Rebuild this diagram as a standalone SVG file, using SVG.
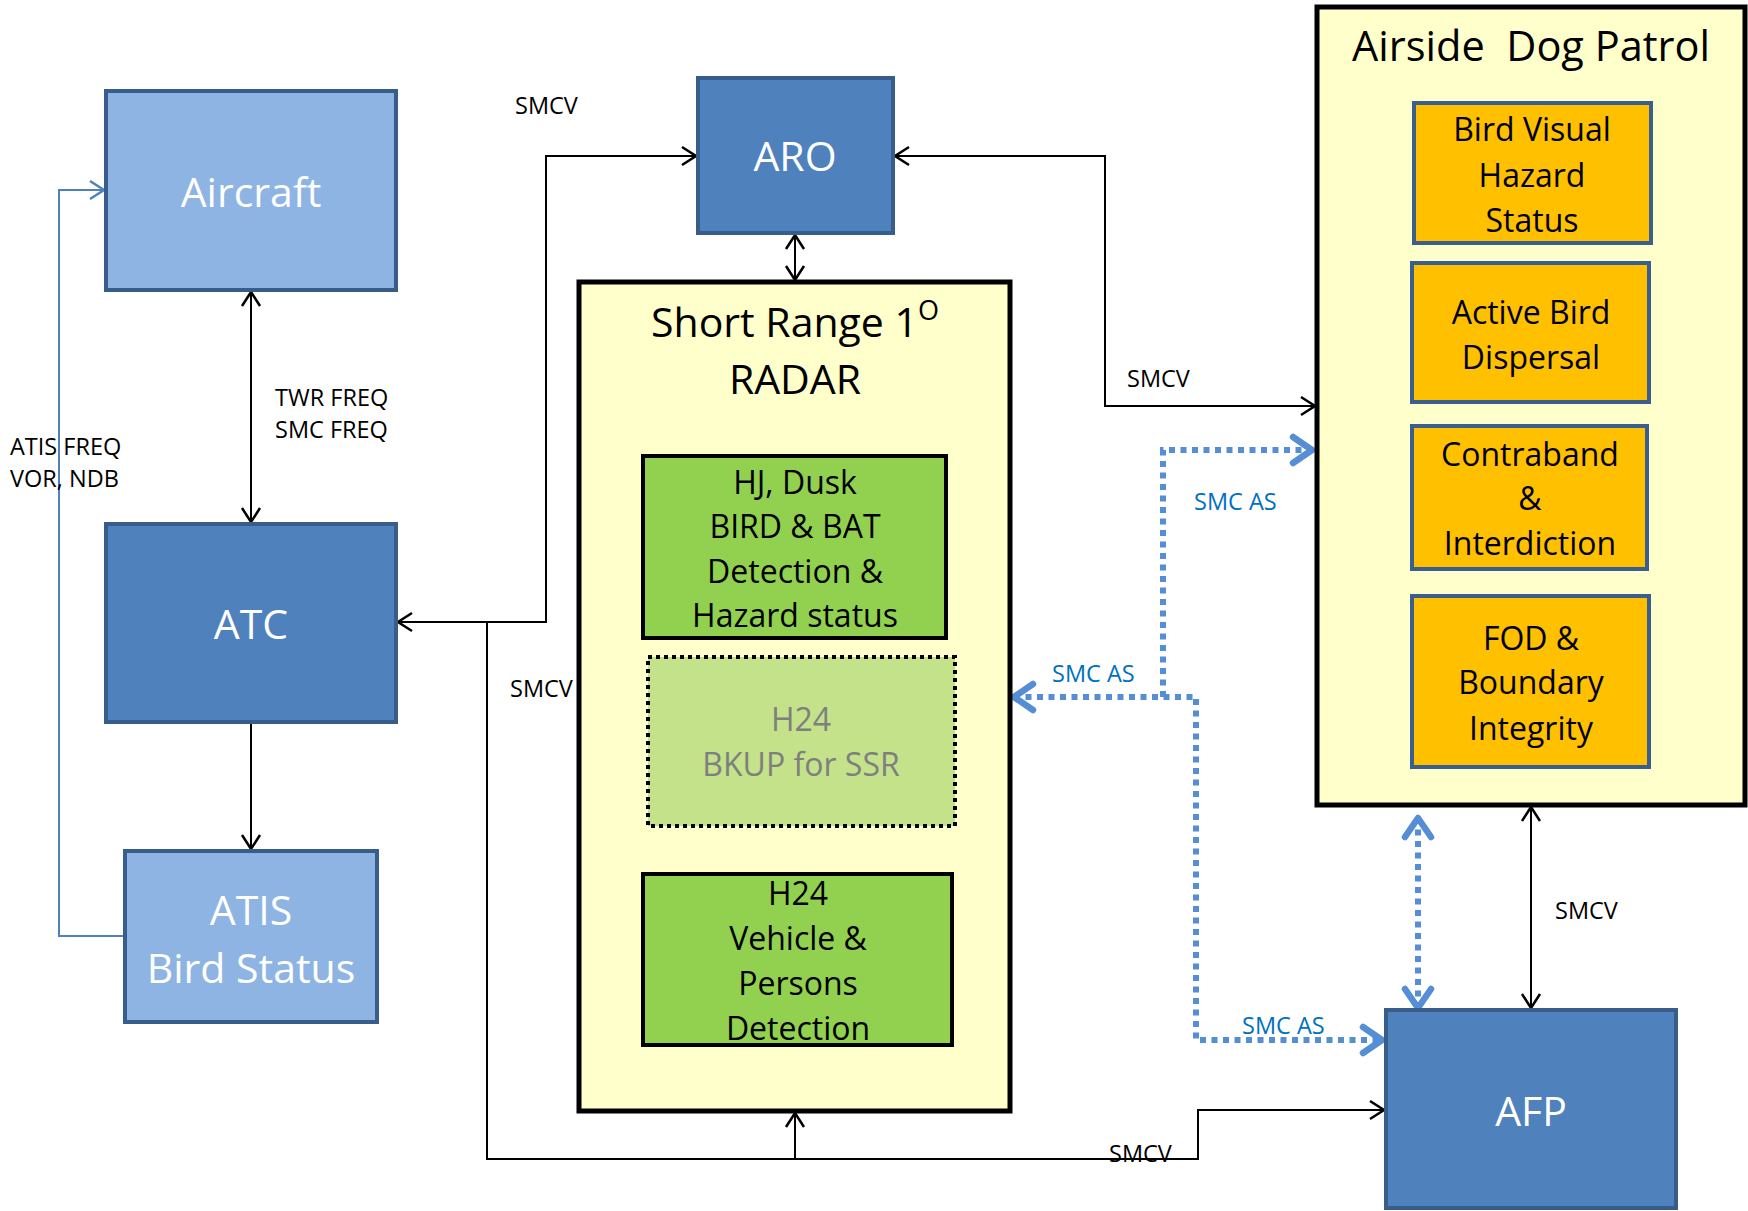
<svg xmlns="http://www.w3.org/2000/svg" width="1748" height="1211" viewBox="0 0 1748 1211">
<style>
text{font-family:"Open Sans","Liberation Sans",sans-serif;text-anchor:middle}
.t{font-size:41px;fill:#fff}
.b{font-size:32px;fill:#000}
.g{font-size:32px;fill:#7f7f7f}
.l{font-size:23.5px;fill:#000;text-anchor:start}
.lb{font-size:23.5px;fill:#0070c0;text-anchor:start}
.blue{fill:#4f81bd;stroke:#385d8a;stroke-width:4}
.lblue{fill:#8eb4e3;stroke:#385d8a;stroke-width:4}
.cont{fill:#ffffcc;stroke:#000;stroke-width:5}
.grn{fill:#92d050;stroke:#000;stroke-width:4}
.org{fill:#ffc000;stroke:#3a5f8f;stroke-width:4}
.c{fill:none;stroke:#000;stroke-width:2}
.d{fill:none;stroke:#558ed5;stroke-width:6;stroke-dasharray:6 5.5}
</style>
<defs>
<marker id="a" viewBox="-16 -11 18 22" markerWidth="18" markerHeight="22" refX="0" refY="0" orient="auto-start-reverse" markerUnits="userSpaceOnUse">
<path d="M-14,-9 L0,0 L-14,9" fill="none" stroke="#000" stroke-width="2.5"/>
</marker>
<marker id="ab" viewBox="-16 -11 18 22" markerWidth="18" markerHeight="22" refX="0" refY="0" orient="auto-start-reverse" markerUnits="userSpaceOnUse">
<path d="M-14,-9 L0,0 L-14,9" fill="none" stroke="#4f81bd" stroke-width="2.5"/>
</marker>
<marker id="ad" viewBox="-26 -18 30 36" markerWidth="30" markerHeight="36" refX="0" refY="0" orient="auto-start-reverse" markerUnits="userSpaceOnUse">
<path d="M-19,-13 L0,0 L-19,13" fill="none" stroke="#558ed5" stroke-width="6.5" stroke-linecap="round" stroke-linejoin="round"/>
</marker>
</defs>

<g id="connectors">
<path d="M125,936 H59 V190 H104" fill="none" stroke="#4f81bd" stroke-width="2" marker-end="url(#ab)"/>
<path class="c" d="M251,292 V522" marker-start="url(#a)" marker-end="url(#a)"/>
<path class="c" d="M251,722 V849" marker-end="url(#a)"/>
<path class="c" d="M398,622 H546 V156 H696" marker-start="url(#a)" marker-end="url(#a)"/>
<path class="c" d="M487,622 V1159 H1198 V1110 H1384" marker-end="url(#a)"/>
<path class="c" d="M795,1159 V1113" marker-end="url(#a)"/>
<path class="c" d="M795,235 V280" marker-start="url(#a)" marker-end="url(#a)"/>
<path class="c" d="M895,156 H1105 V406 H1315" marker-start="url(#a)" marker-end="url(#a)"/>
<path class="c" d="M1531,807 V1008" marker-start="url(#a)" marker-end="url(#a)"/>
<path class="d" d="M1163,697 V450 H1312" marker-end="url(#ad)"/>
<path class="d" d="M1014,697 H1196 V1040 H1382" marker-start="url(#ad)" marker-end="url(#ad)"/>
<path class="d" d="M1418,818 V1008" marker-start="url(#ad)" marker-end="url(#ad)"/>
<text class="l" x="515" y="114">SMCV</text>
<text class="l" x="275" y="406">TWR FREQ</text>
<text class="l" x="275" y="438">SMC FREQ</text>
<text class="l" x="10" y="455">ATIS FREQ</text>
<text class="l" x="10" y="487">VOR, NDB</text>
<text class="l" x="510" y="697">SMCV</text>
<text class="l" x="1127" y="387">SMCV</text>
<text class="lb" x="1194" y="510">SMC AS</text>
<text class="lb" x="1052" y="682">SMC AS</text>
<text class="lb" x="1242" y="1034">SMC AS</text>
<text class="l" x="1109" y="1162">SMCV</text>
<text class="l" x="1555" y="919">SMCV</text>
</g>

<g id="aircraft">
<rect class="lblue" x="106" y="91" width="290" height="199"/>
<text class="t" x="251" y="207">Aircraft</text>
</g>
<g id="atc">
<rect class="blue" x="106" y="524" width="290" height="198"/>
<text class="t" x="251" y="639">ATC</text>
</g>
<g id="atis">
<rect class="lblue" x="125" y="851" width="252" height="171"/>
<text class="t" x="251" y="925">ATIS</text>
<text class="t" x="251" y="983">Bird Status</text>
</g>
<g id="aro">
<rect class="blue" x="698" y="78" width="195" height="155"/>
<text class="t" x="795" y="171">ARO</text>
</g>
<g id="radar">
<rect class="cont" x="579" y="282" width="431" height="829"/>
<text x="795" y="337" style="font-size:41px;fill:#000">Short Range 1<tspan font-size="27" dy="-17">O</tspan></text>
<text x="795" y="394" style="font-size:41px;fill:#000">RADAR</text>
</g>
<g id="hj">
<rect class="grn" x="643" y="456" width="303" height="182"/>
<text class="b" x="795" y="494">HJ, Dusk</text>
<text class="b" x="795" y="538">BIRD &amp; BAT</text>
<text class="b" x="795" y="583">Detection &amp;</text>
<text class="b" x="795" y="627">Hazard status</text>
</g>
<g id="bkup">
<rect x="648" y="657" width="307" height="169" fill="#c3e28a" stroke="#000" stroke-width="4" stroke-dasharray="4 4"/>
<text class="g" x="801" y="731">H24</text>
<text class="g" x="801" y="776">BKUP for SSR</text>
</g>
<g id="h24">
<rect class="grn" x="643" y="874" width="309" height="171"/>
<text class="b" x="798" y="905">H24</text>
<text class="b" x="798" y="950">Vehicle &amp;</text>
<text class="b" x="798" y="995">Persons</text>
<text class="b" x="798" y="1040">Detection</text>
</g>
<g id="airside">
<rect class="cont" x="1317" y="7" width="428" height="798"/>
<text x="1531" y="61" xml:space="preserve" style="font-size:41.5px;fill:#000;white-space:pre">Airside  Dog Patrol</text>
</g>
<g id="birdvisual">
<rect class="org" x="1414" y="103" width="237" height="140"/>
<text class="b" x="1532" y="141">Bird Visual</text>
<text class="b" x="1532" y="187">Hazard</text>
<text class="b" x="1532" y="232">Status</text>
</g>
<g id="activebird">
<rect class="org" x="1412" y="263" width="237" height="139"/>
<text class="b" x="1531" y="324">Active Bird</text>
<text class="b" x="1531" y="369">Dispersal</text>
</g>
<g id="contraband">
<rect class="org" x="1412" y="426" width="235" height="143"/>
<text class="b" x="1530" y="466">Contraband</text>
<text class="b" x="1530" y="510">&amp;</text>
<text class="b" x="1530" y="555">Interdiction</text>
</g>
<g id="fod">
<rect class="org" x="1412" y="596" width="237" height="171"/>
<text class="b" x="1531" y="650">FOD &amp;</text>
<text class="b" x="1531" y="694">Boundary</text>
<text class="b" x="1531" y="740">Integrity</text>
</g>
<g id="afp">
<rect class="blue" x="1386" y="1010" width="290" height="198"/>
<text class="t" x="1531" y="1126">AFP</text>
</g>
</svg>
